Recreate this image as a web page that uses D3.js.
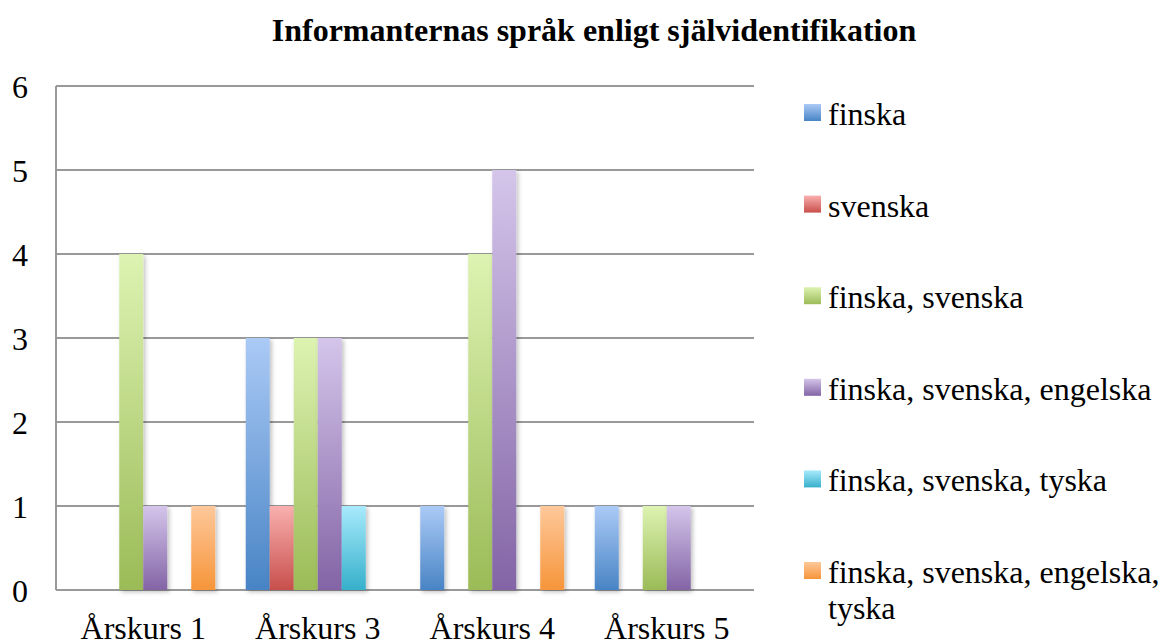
<!DOCTYPE html>
<html><head><meta charset="utf-8"><script src="https://cdn.jsdelivr.net/npm/d3@7"></script></head>
<body style="margin:0">
<svg width="1162" height="644"></svg>
<script>
var categories = ["Årskurs 1", "Årskurs 3", "Årskurs 4", "Årskurs 5"];
var seriesNames = ["finska", "svenska", "finska, svenska", "finska, svenska, engelska",
                   "finska, svenska, tyska", "finska, svenska, engelska, tyska"];
var finska       = [0, 3, 1, 1];
var svenska      = [0, 1, 0, 0];
var finSve       = [4, 3, 4, 1];
var finSveEng    = [1, 3, 5, 1];
var finSveTys    = [0, 1, 0, 0];
var finSveEngTys = [1, 0, 1, 0];
var yTicks = [0, 1, 2, 3, 4, 5, 6];

var allSeries = [finska, svenska, finSve, finSveEng, finSveTys, finSveEngTys];
var topColors = ["#abcaf6", "#f9b0af", "#ddf3b2", "#d4c5ea", "#a8eafc", "#fec89a"];
var botColors = ["#4884c5", "#c84f4b", "#9bbb57", "#8364a6", "#36b0cb", "#f6953a"];

var svg = d3.select("svg");
var pLeft = 56, pRight = 754, pTop = 86, pBottom = 590;
var fam = "'Liberation Serif'";

var x0 = d3.scaleBand().domain(categories).range([pLeft, pRight]);
var x1 = d3.scaleBand().domain(d3.range(6)).range([0, x0.bandwidth()]).paddingOuter(0.635);
var y = d3.scaleLinear().domain([0, 6]).range([pBottom, pTop]);

var defs = svg.append("defs");
allSeries.forEach(function(s, i) {
  var g = defs.append("linearGradient").attr("id", "grad" + i)
    .attr("x1", 0).attr("y1", 0).attr("x2", 0).attr("y2", 1);
  g.append("stop").attr("offset", "0%").attr("stop-color", topColors[i]);
  g.append("stop").attr("offset", "100%").attr("stop-color", botColors[i]);
});
var f = defs.append("filter").attr("id", "shadow")
  .attr("x", "-30%").attr("y", "-10%").attr("width", "160%").attr("height", "130%");
f.append("feDropShadow").attr("dx", 2).attr("dy", 2).attr("stdDeviation", 2)
  .attr("flood-color", "#000").attr("flood-opacity", 0.25);

// title
svg.append("text")
  .attr("x", 594).attr("y", 41)
  .attr("text-anchor", "middle")
  .style("font-family", fam)
  .style("font-size", "32px")
  .style("font-weight", "bold")
  .text("Informanternas språk enligt självidentifikation");

// gridlines
yTicks.forEach(function(t) {
  svg.append("line")
    .attr("x1", pLeft).attr("x2", pRight)
    .attr("y1", y(t)).attr("y2", y(t))
    .style("stroke", "#999").style("stroke-width", 2);
});
svg.append("line")
  .attr("x1", pLeft).attr("x2", pLeft).attr("y1", pTop).attr("y2", pBottom)
  .style("stroke", "#999").style("stroke-width", 2);

// y labels, straight on the svg (not in a g)
yTicks.forEach(function(t) {
  svg.append("text")
    .attr("x", 20).attr("y", y(t) + 12)
    .attr("text-anchor", "middle")
    .style("font-family", fam)
    .style("font-size", "32px")
    .text(t);
});

// bars
allSeries.forEach(function(s, i) {
  categories.forEach(function(c, j) {
    if (s[j] > 0) {
      svg.append("rect")
        .attr("x", x0(c) + x1(i))
        .attr("y", y(s[j]))
        .attr("width", x1.bandwidth())
        .attr("height", y(0) - y(s[j]))
        .attr("fill", "url(#grad" + i + ")")
        .attr("filter", "url(#shadow)");
    }
  });
});

// x labels
categories.forEach(function(c) {
  svg.append("text")
    .attr("x", x0(c) + x0.bandwidth() / 2)
    .attr("y", 639)
    .attr("text-anchor", "middle")
    .style("font-family", fam)
    .style("font-size", "32px")
    .text(c);
});

// legend
seriesNames.forEach(function(name, i) {
  var by = 125 + i * 91.6;
  svg.append("rect")
    .attr("x", 804).attr("y", by - 21).attr("width", 17).attr("height", 17)
    .attr("fill", "url(#grad" + i + ")");
  if (i === 5) {
    svg.append("text").attr("x", 828).attr("y", by)
      .style("font-family", fam).style("font-size", "32px")
      .text("finska, svenska, engelska,");
    svg.append("text").attr("x", 828).attr("y", by + 36)
      .style("font-family", fam).style("font-size", "32px")
      .text("tyska");
  } else {
    svg.append("text").attr("x", 828).attr("y", by)
      .style("font-family", fam).style("font-size", "32px")
      .text(name);
  }
});
</script>
</body></html>
